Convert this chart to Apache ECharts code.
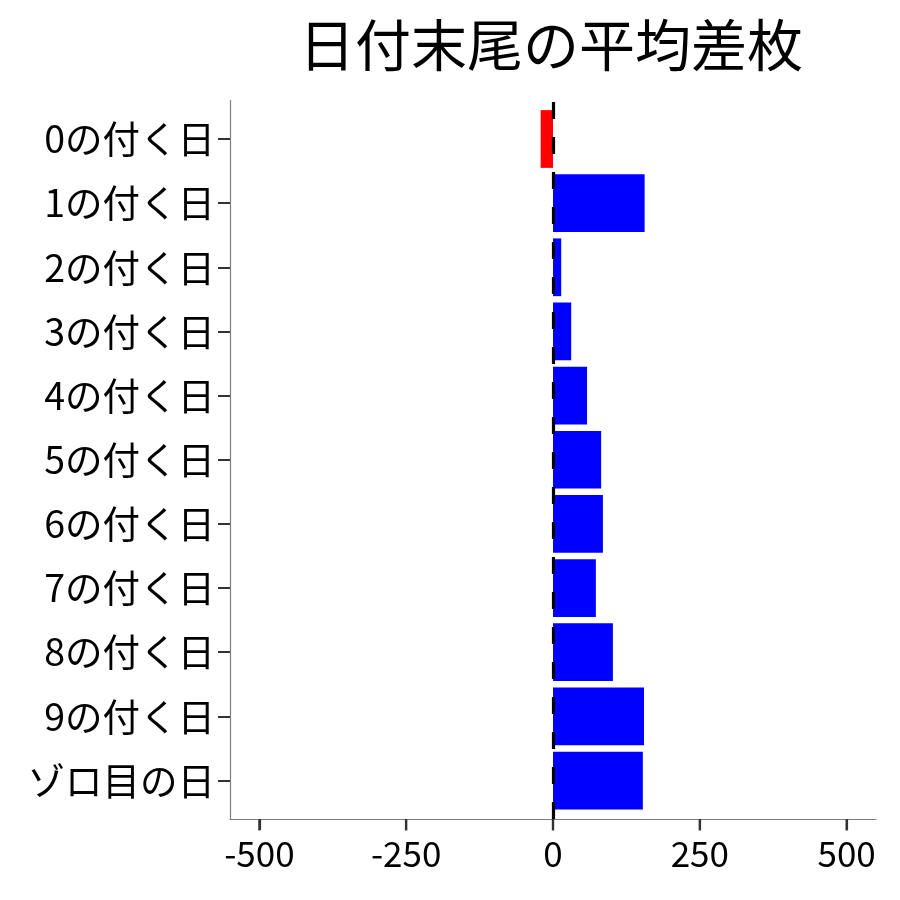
<!DOCTYPE html>
<html>
<head>
<meta charset="utf-8">
<script src="https://cdn.jsdelivr.net/npm/echarts@6/dist/echarts.min.js"></script>
<style>
html,body{margin:0;padding:0;background:#fff;}
#chart{width:900px;height:900px;}
</style>
</head>
<body>
<div id="chart"></div>
<script>
const titleText = '日付末尾の平均差枚';
const categories = ['0の付く日','1の付く日','2の付く日','3の付く日','4の付く日','5の付く日','6の付く日','7の付く日','8の付く日','9の付く日','ゾロ目の日'];
const values = [-21, 156, 14, 31, 58, 82, 85, 73, 102, 155, 153];
const xTickValues = [-500, -250, 0, 250, 500];
const xTickStep = 250;
const xMin = -550, xMax = 550;

const FONT = '"Noto Sans CJK JP", "Noto Sans", sans-serif';
const chart = echarts.init(document.getElementById('chart'), null, {renderer: 'canvas'});

// panel in px: left 230, right 876, top 100.5, bottom 819; discrete expansion 0.6 on each side
const panelLeft = 230, panelRight = 876;
const panelTop = 100.5, panelBottom = 819;
const unit = (panelBottom - panelTop) / (categories.length - 1 + 1.2);
const bandTop = panelTop + 0.1 * unit;
const bandBottom = panelBottom - 0.1 * unit;
const pxPerVal = (panelRight - panelLeft) / (xMax - xMin);
const tickLeft = panelLeft + (xTickValues[0] - xMin) * pxPerVal;
const tickRight = panelRight - (xMax - xTickValues[xTickValues.length - 1]) * pxPerVal;
const TICK_LEN = 11;

chart.setOption({
  animation: false,
  backgroundColor: '#ffffff',
  title: {
    text: titleText,
    left: 546, top: 12, textAlign: 'center',
    textStyle: {fontFamily: FONT, fontSize: 56, fontWeight: 'normal', color: '#000'}
  },
  grid: [
    {left: panelLeft, right: 900 - panelRight, top: panelTop, bottom: 900 - panelBottom, containLabel: false},
    {left: panelLeft, right: 900 - panelRight, top: bandTop, bottom: 900 - bandBottom, containLabel: false},
    {left: tickLeft, right: 900 - tickRight, top: panelTop, bottom: 900 - panelBottom, containLabel: false}
  ],
  xAxis: [
    {
      type: 'value', gridIndex: 0, min: xMin, max: xMax,
      axisLine: {show: true, onZero: false, lineStyle: {color: '#7f7f7f', width: 1.2}},
      axisTick: {show: false}, axisLabel: {show: false}, splitLine: {show: false}
    },
    {
      type: 'value', gridIndex: 1, min: xMin, max: xMax, show: false
    },
    {
      type: 'value', gridIndex: 2, min: xTickValues[0], max: xTickValues[xTickValues.length - 1], interval: xTickStep,
      position: 'bottom',
      axisLine: {show: false, onZero: false},
      axisTick: {show: true, length: TICK_LEN, lineStyle: {color: '#333333', width: 2.2}},
      axisLabel: {show: true, margin: 17, fontFamily: FONT, fontSize: 35, color: '#000'},
      splitLine: {show: false}
    }
  ],
  yAxis: [
    {
      type: 'value', gridIndex: 0, min: 0, max: 1,
      axisLine: {show: true, onZero: false, lineStyle: {color: '#7f7f7f', width: 1.2}},
      axisTick: {show: false}, axisLabel: {show: false}, splitLine: {show: false}
    },
    {
      type: 'category', gridIndex: 1, inverse: true, data: categories,
      axisLine: {show: false, onZero: false},
      axisTick: {show: true, alignWithLabel: true, length: 12, lineStyle: {color: '#333', width: 2}},
      axisLabel: {margin: 15, fontFamily: FONT, fontSize: 37.5, color: '#000'},
      splitLine: {show: false}
    },
    {
      type: 'value', gridIndex: 2, min: 0, max: 1,
      axisLine: {show: false}, axisTick: {show: false}, axisLabel: {show: false}, splitLine: {show: false}
    }
  ],
  series: [
    {
      type: 'bar', xAxisIndex: 1, yAxisIndex: 1, barWidth: '90%', z: 2,
      data: values.map(v => ({value: v, itemStyle: {color: v < 0 ? '#ff0000' : '#0000ff'}}))
    },
    {
      // x-axis tick marks, placed by the axis scale at the panel bottom
      type: 'scatter', xAxisIndex: 0, yAxisIndex: 0, z: 1, clip: false, silent: true,
      symbol: 'rect', symbolSize: [2.2, TICK_LEN], symbolOffset: [0, TICK_LEN / 2 + 0.5],
      itemStyle: {color: '#333333', opacity: 1},
      data: xTickValues.map(v => [v, 0])
    },
    {
      type: 'scatter', xAxisIndex: 0, yAxisIndex: 0, z: 10, symbolSize: 0,
      data: [[0, 0.5]], silent: true,
      markLine: {
        silent: true, symbol: ['none','none'], animation: false,
        label: {show: false},
        lineStyle: {color: '#000', width: 3.2, type: [17, 18]},
        data: [{xAxis: 0}]
      }
    }
  ]
});
</script>
</body>
</html>
